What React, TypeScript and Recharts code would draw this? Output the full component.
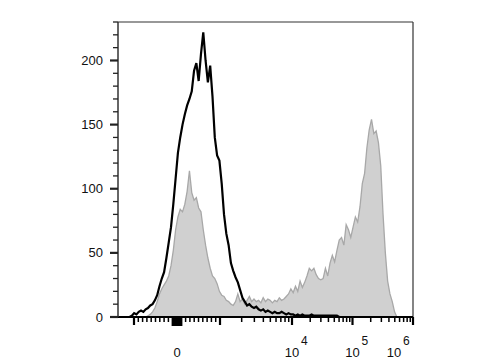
import { Area, ComposedChart, Line, ReferenceLine, XAxis, YAxis } from "recharts";

// histogram bins (display channels 0..128)
const stained = [
  0, 0, 0, 0, 0, 0, 0, 0, 0, 0, 0, 0, 0, 1, 2, 4, 7, 12, 18, 22, 25, 28, 32, 40, 52, 68,
  78, 84, 82, 88, 98, 114, 97, 91, 93, 85, 82, 68, 56, 46, 38, 32, 30, 26, 20, 17, 16,
  13, 12, 10, 9, 12, 18, 12, 14, 10, 13, 16, 12, 14, 12, 13, 11, 15, 12, 14, 13, 11, 13,
  12, 15, 13, 14, 16, 18, 22, 19, 24, 20, 28, 23, 27, 32, 38, 36, 38, 33, 30, 29, 30, 38,
  32, 42, 48, 43, 52, 60, 62, 56, 72, 68, 62, 70, 78, 74, 86, 104, 112, 132, 146, 154,
  143, 145, 136, 118, 80, 50, 28, 18, 12, 4, 0, 0, 0, 0, 0, 0, 0, 0,
];

const control = [
  0, 0, 0, 0, 0, 0, 1, 3, 2, 4, 5, 4, 6, 7, 9, 10, 13, 17, 24, 30, 35, 46, 58, 70, 88, 108,
  128, 140, 150, 158, 165, 170, 176, 192, 198, 184, 205, 222, 200, 183, 196, 172, 140,
  126, 122, 104, 80, 65, 56, 42, 36, 31, 27, 21, 15, 12, 9, 10, 8, 7, 8, 6, 5, 6, 4, 5, 4,
  3, 4, 3, 3, 4, 3, 2, 3, 2, 2, 1, 2, 1, 2, 1, 1, 1, 2, 1, 1, 1, 1, 1, 1, 1, 1, 1, 1, 1,
  0, 0, 0, 0, 0, 0, 0, 0, 0, 0, 0, 0, 0, 0, 0, 0, 0, 0, 0, 0, 0, 0, 0, 0, 0, 0, 0, 0, 0,
  0, 0, 0, 0,
];

const yTicks = [0, 10, 20, 30, 40, 50, 60, 70, 80, 90, 100, 110, 120, 130, 140, 150, 160, 170, 180, 190, 200, 210, 220, 230];
const yLabels = [0, 50, 100, 150, 200];

const majorValues = [-1000, 0, 1000, 10000, 100000, 1000000];
const decadeLabels: Record<number, string> = { 0: "0", 10000: "4", 100000: "5", 1000000: "6" };
const zeroCluster = [-100, -90, -80, -70, -60, -50, -40, -30, -20, -10, 10, 20, 30, 40, 50, 60, 70, 80, 90, 100];
const minorValues = [
  -900, -800, -700, -600, -500, -400, -300, -200, 200, 300, 400, 500, 600, 700, 800, 900,
  2000, 3000, 4000, 5000, 6000, 7000, 8000, 9000,
  20000, 30000, 40000, 50000, 60000, 70000, 80000, 90000,
  200000, 300000, 400000, 500000, 600000, 700000, 800000, 900000,
];

// biexponential-ish display transform -> channel
function channel(v: number) {
  const zero = 25.6;
  if (Math.abs(v) <= 1000) return zero + 0.01866 * v;
  if (v > 0 && v <= 10000) return zero + 18.66 + 31.24 * Math.log10(v / 1000);
  if (v > 10000) return zero + 18.66 + 31.24 + 26.25 * Math.log10(v / 10000);
  return zero - 18.66 - 31.24 * Math.log10(-v / 1000);
}

type TickInfo = { ch: number; kind: "major" | "mid" | "minor"; value: number };
const xTickInfo: TickInfo[] = [
  ...majorValues.map((v) => ({ ch: channel(v), kind: "major" as const, value: v })),
  ...zeroCluster.map((v) => ({ ch: channel(v), kind: "mid" as const, value: v })),
  ...minorValues.map((v) => ({ ch: channel(v), kind: "minor" as const, value: v })),
].sort((a, b) => a.ch - b.ch);

const data = stained.map((s, i) => ({ ch: i, stained: s, control: control[i] }));

function XTick(props: any) {
  const { x, y, index } = props;
  const t = xTickInfo[index];
  if (!t) return null;
  const len = t.kind === "minor" ? 5 : t.kind === "mid" ? 9 : 8;
  const w = t.kind === "minor" ? 1.5 : 2.2;
  const label = decadeLabels[t.value];
  return (
    <g>
      <line x1={x} x2={x} y1={y} y2={y + len} stroke="#000" strokeWidth={w} />
      {label === "0" && (
        <text x={x} y={y + 40} textAnchor="middle" fontSize={13} fill="#111">
          0
        </text>
      )}
      {label && label !== "0" && (
        <g transform={`translate(${t.value === 1000000 ? x - 19 : x}, ${y + 40})`}>
          <text x={0} y={0} textAnchor="middle" fontSize={13} fill="#111">
            10
          </text>
          <text x={9} y={-12} fontSize={12} fill="#111">
            {label}
          </text>
        </g>
      )}
    </g>
  );
}

function YTick(props: any) {
  const { x, y, payload } = props;
  const major = yLabels.includes(payload.value);
  return (
    <g>
      <line x1={x - (major ? 8 : 5)} x2={x} y1={y} y2={y} stroke="#222" strokeWidth={major ? 2.2 : 1.3} />
      {major && (
        <text x={x - 15} y={y + 4.5} textAnchor="end" fontSize={13} fill="#111">
          {payload.value}
        </text>
      )}
    </g>
  );
}

export default function App() {
  return (
    <div style={{ position: "absolute", left: 0, top: 0, background: "#fff", fontFamily: "Arial, 'Liberation Sans', sans-serif" }}>
      <ComposedChart width={480} height={360} data={data} margin={{ top: 22, right: 67, left: 78, bottom: 3 }}>
        <XAxis
          dataKey="ch"
          type="number"
          domain={[0, 128]}
          ticks={xTickInfo.map((t) => t.ch)}
          interval={0}
          tick={<XTick />}
          tickLine={false}
          tickSize={0}
          tickMargin={0}
          axisLine={{ stroke: "#000", strokeWidth: 2 }}
          height={40}
          allowDataOverflow
        />
        <YAxis
          type="number"
          domain={[0, 230]}
          ticks={yTicks}
          interval={0}
          tick={<YTick />}
          tickLine={false}
          tickSize={0}
          tickMargin={0}
          axisLine={{ stroke: "#333", strokeWidth: 1.5 }}
          width={40}
          allowDataOverflow
        />
        <ReferenceLine y={230} stroke="#333" strokeWidth={1.2} />
        <ReferenceLine x={128} stroke="#333" strokeWidth={1.2} />
        <Area
          type="linear"
          dataKey="stained"
          fill="#d0d0d0"
          fillOpacity={1}
          stroke="#a8a8a8"
          strokeWidth={1.3}
          isAnimationActive={false}
          dot={false}
          activeDot={false}
        />
        <Line
          type="linear"
          dataKey="control"
          stroke="#000"
          strokeWidth={2.2}
          dot={false}
          activeDot={false}
          isAnimationActive={false}
        />
      </ComposedChart>
    </div>
  );
}
